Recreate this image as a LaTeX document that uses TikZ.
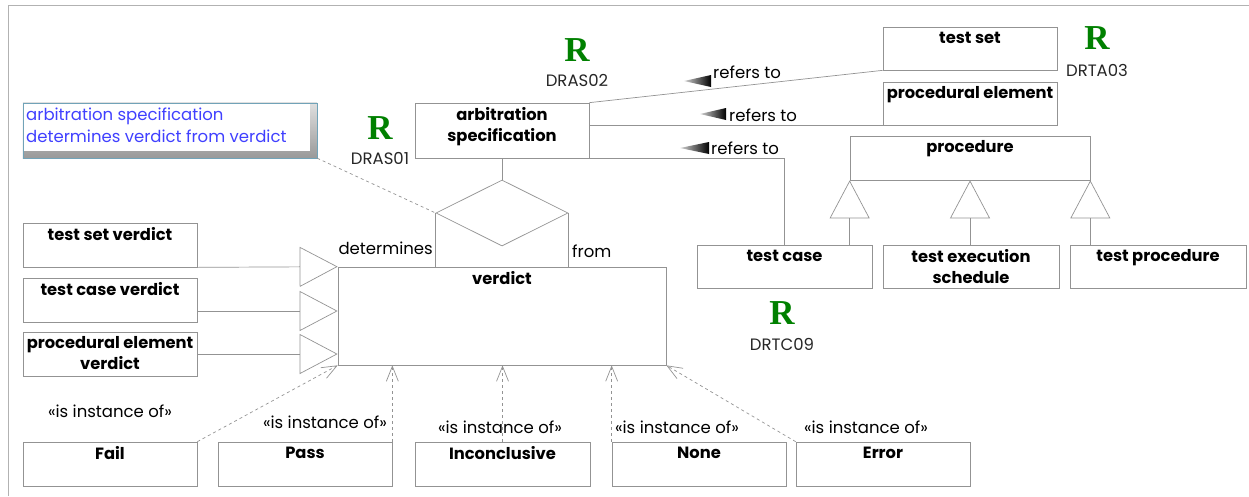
\documentclass[tikz,border=0pt]{standalone}
\usepackage{fontspec}
\setmainfont{Poppins}
\newfontfamily\rfont{Liberation Serif}
\usetikzlibrary{arrows.meta,shapes.geometric}

\begin{document}
\begin{tikzpicture}[x=1pt, y=-1pt,
    clsbox/.style={draw=gray!85, line width=.7pt, inner sep=0pt, minimum height=44},
    clsname/.style={anchor=north, font=\fontsize{16.3}{21}\selectfont\bfseries, align=center, inner sep=0pt},
    lbl/.style={font=\fontsize{16.5}{22}\selectfont, inner sep=0pt},
    conn/.style={draw=gray!85, line width=.7pt},
    gen/.style={conn, -{Triangle[open, length=38pt, width=40pt]}},
    inst/.style={conn, dashed, -{Straight Barb[length=15pt, width=12pt]}},
    rmark/.style={text=green!50!black, font=\rfont\fontsize{35}{35}\selectfont\bfseries, inner sep=0pt},
    rcode/.style={lbl, text=black!85}]
  \useasboundingbox (0,0) rectangle (1249,496);
  \draw[gray!60, line width=1pt] (8,496) -- (8,5) -- (1249,5);

  % note
  \node[minimum width=294, minimum height=55, inner sep=0pt] (note) at (170,130.5) {};
  \shade[top color=gray!25, bottom color=gray!80] (note.north west) rectangle (note.south east);
  \fill[white] ([shift={(1,1)}]note.north west) rectangle ([shift={(-7,-7)}]note.south east);
  \draw[cyan!40!gray, line width=.5pt] (note.north west) rectangle (note.south east);
  \node[lbl, anchor=north west, align=left, text=blue!75] (notetext) at (26,108)
    {arbitration specification\\determines verdict from verdict};

  % classes
  \node[clsbox, minimum width=174, minimum height=55] (arb) at (502,130.5) {};
  \node[clsname] (arbname) at ([yshift=-5]arb.north) {arbitration\\specification};
  \node[clsbox, minimum width=174, minimum height=43] (tset) at (970,48.5) {};
  \node[clsname] (tsetname) at ([yshift=-5]tset.north) {test set};
  \node[clsbox, minimum width=174, minimum height=43] (pel) at (970,103.5) {};
  \node[clsname] (pelname) at ([yshift=-5]pel.north) {procedural element};
  \node[clsbox, minimum width=240] (proc) at (970,158) {};
  \node[clsname] (procname) at ([yshift=-5]proc.north) {procedure};
  \node[clsbox, minimum width=175, minimum height=43] (tcase) at (784.5,266.5) {};
  \node[clsname] (tcasename) at ([yshift=-5]tcase.north) {test case};
  \node[clsbox, minimum width=176, minimum height=43] (tes) at (971,266.5) {};
  \node[clsname] (tesname) at ([yshift=-5]tes.north) {test execution\\schedule};
  \node[clsbox, minimum width=176, minimum height=43] (tproc) at (1158,266.5) {};
  \node[clsname] (tprocname) at ([yshift=-5]tproc.north) {test procedure};

  \node[clsbox, minimum width=174] (tsv) at (110,245) {};
  \node[clsname] (tsvname) at ([yshift=-5]tsv.north) {test set verdict};
  \node[clsbox, minimum width=174] (tcv) at (110,300) {};
  \node[clsname] (tcvname) at ([yshift=-5]tcv.north) {test case verdict};
  \node[clsbox, minimum width=174] (pev) at (110,354) {};
  \node[clsname] (pevname) at ([yshift=-5]pev.north) {procedural element\\verdict};
  \node[clsbox, minimum width=328, minimum height=98] (verdict) at (502,316) {};
  \node[clsname] (verdictname) at ([yshift=-5]verdict.north) {verdict};
  \node[diamond, conn, aspect=2, minimum width=132, minimum height=66, inner sep=0pt] (dia) at (502,213) {};

  \node[clsbox, minimum width=174] (fail) at (110,464) {};
  \node[clsname] (failname) at ([yshift=-5]fail.north) {Fail};
  \node[clsbox, minimum width=174] (pass) at (305,464) {};
  \node[clsname] (passname) at ([yshift=-5]pass.north) {Pass};
  \node[clsbox, minimum width=175] (incon) at (502.5,464) {};
  \node[clsname] (inconname) at ([yshift=-5]incon.north) {Inconclusive};
  \node[clsbox, minimum width=174] (none) at (699,464) {};
  \node[clsname] (nonename) at ([yshift=-5]none.north) {None};
  \node[clsbox, minimum width=174] (error) at (883,464) {};
  \node[clsname] (errorname) at ([yshift=-5]error.north) {Error};

  % refers to
  \draw[conn] (arb.north east) -- (tset.south west);
  \draw[conn] (pel.south west) -- (pel.south west -| arb.east);
  \draw[conn] (arb.south east) -- (tcase.north |- arb.south east) -- (tcase.north);
  \shade[left color=gray!35, right color=black] (711,75) -- (684,81) -- (711,87) -- cycle;
  \shade[left color=gray!35, right color=black] (726,108) -- (700,114) -- (726,120) -- cycle;
  \shade[left color=gray!35, right color=black] (709,142) -- (680,148) -- (709,154) -- cycle;
  \node[lbl, anchor=west] (ref1) at (713,72) {refers to};
  \node[lbl, anchor=west] (ref2) at (729,115) {refers to};
  \node[lbl, anchor=west] (ref3) at (711,148) {refers to};

  % association
  \draw[conn] (arb.south) -- (dia.north);
  \draw[conn] (dia.west) -- (dia.west |- verdict.north);
  \draw[conn] (dia.east) -- (dia.east |- verdict.north);
  \draw[conn, dashed] (note.south east) -- (dia.west);
  \node[lbl, anchor=east] (determines) at (433,248) {determines};
  \node[lbl, anchor=west] (from) at (572,251) {from};

  % generalisations
  \draw[gen] (tsv.south east) -- (verdict.north west);
  \draw[gen] ([yshift=-11]tcv.east) -- ([yshift=-11]tcv.east -| verdict.west);
  \draw[gen] (pev.east) -- (pev.east -| verdict.west);
  \draw[gen] (tcase.north -| proc.south west) -- (proc.south west);
  \draw[gen] (tes.north -| proc.south) -- (proc.south);
  \draw[gen] (tproc.north -| proc.south east) -- (proc.south east);

  % instances
  \draw[inst] (fail.north east) -- (verdict.south west);
  \draw[inst] (pass.north east) -- (pass.north east |- verdict.south);
  \draw[inst] (incon.north) -- (incon.north |- verdict.south);
  \draw[inst] (none.north west) -- (none.north west |- verdict.south);
  \draw[inst] (error.north west) -- (verdict.south east);
  \node[lbl] (i1) at (110,411) {«is instance of»};
  \node[lbl] (i2) at (325,422) {«is instance of»};
  \node[lbl] (i3) at (500,427) {«is instance of»};
  \node[lbl] (i4) at (677,427) {«is instance of»};
  \node[lbl] (i5) at (866,427) {«is instance of»};

  % requirement marks
  \node[rmark] (r1) at (380,128) {R};
  \node[rcode] (c1) at (380,158) {DRAS01};
  \node[rmark] (r2) at (577,50) {R};
  \node[rcode] (c2) at (577,80) {DRAS02};
  \node[rmark] (r3) at (1097,38) {R};
  \node[rcode] (c3) at (1097,70) {DRTA03};
  \node[rmark] (r4) at (782,313) {R};
  \node[rcode] (c4) at (782,344) {DRTC09};
\end{tikzpicture}
\end{document}
